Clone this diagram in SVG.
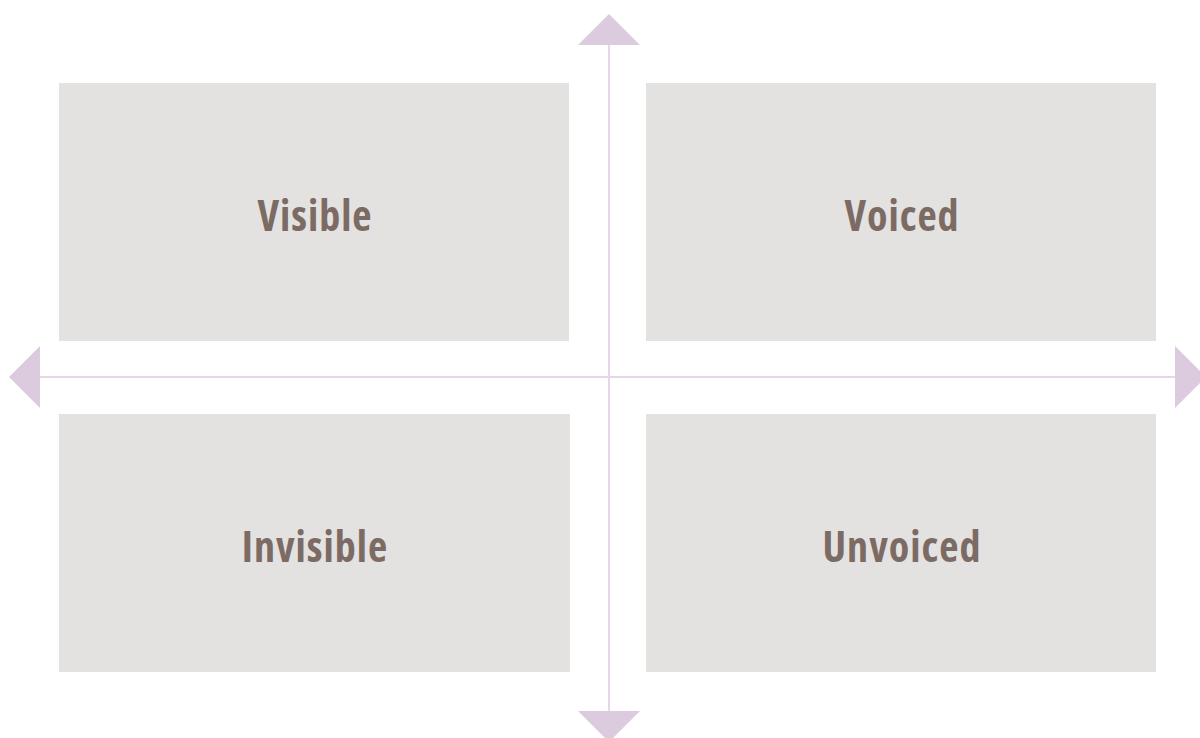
<svg xmlns="http://www.w3.org/2000/svg" width="1200" height="738" viewBox="0 0 1200 738">
  <style>
    .box { fill: #e4e2e0; }
    .label { font-family: "Open Sans", "Liberation Sans Narrow", "Liberation Sans", sans-serif; font-stretch: condensed; font-weight: bold; font-size: 42px; letter-spacing: 1px; fill: #7b6b64; text-anchor: middle; }
    .axis { stroke: #e6d6e8; stroke-width: 2; fill: none; }
    .head { fill: #dccade; }
  </style>
  <rect width="1200" height="738" fill="#ffffff"/>
  <g id="connectors">
    <line class="axis" x1="609" y1="40" x2="609" y2="715"/>
    <line class="axis" x1="36" y1="377" x2="1178" y2="377"/>
    <polygon class="head" points="609,14 640,45 578,45"/>
    <polygon class="head" points="609,742 640,711 578,711"/>
    <polygon class="head" points="9,377 40,346 40,408"/>
    <polygon class="head" points="1206,377 1175,346 1175,408"/>
  </g>
  <g id="visible">
    <rect class="box" x="59" y="83" width="510" height="258"/>
    <text class="label" x="315" y="231">Visible</text>
  </g>
  <g id="voiced">
    <rect class="box" x="646" y="83" width="510" height="258"/>
    <text class="label" x="902" y="231">Voiced</text>
  </g>
  <g id="invisible">
    <rect class="box" x="59" y="414" width="511" height="258"/>
    <text class="label" x="315" y="562">Invisible</text>
  </g>
  <g id="unvoiced">
    <rect class="box" x="646" y="414" width="510" height="258"/>
    <text class="label" x="902" y="562">Unvoiced</text>
  </g>
</svg>
